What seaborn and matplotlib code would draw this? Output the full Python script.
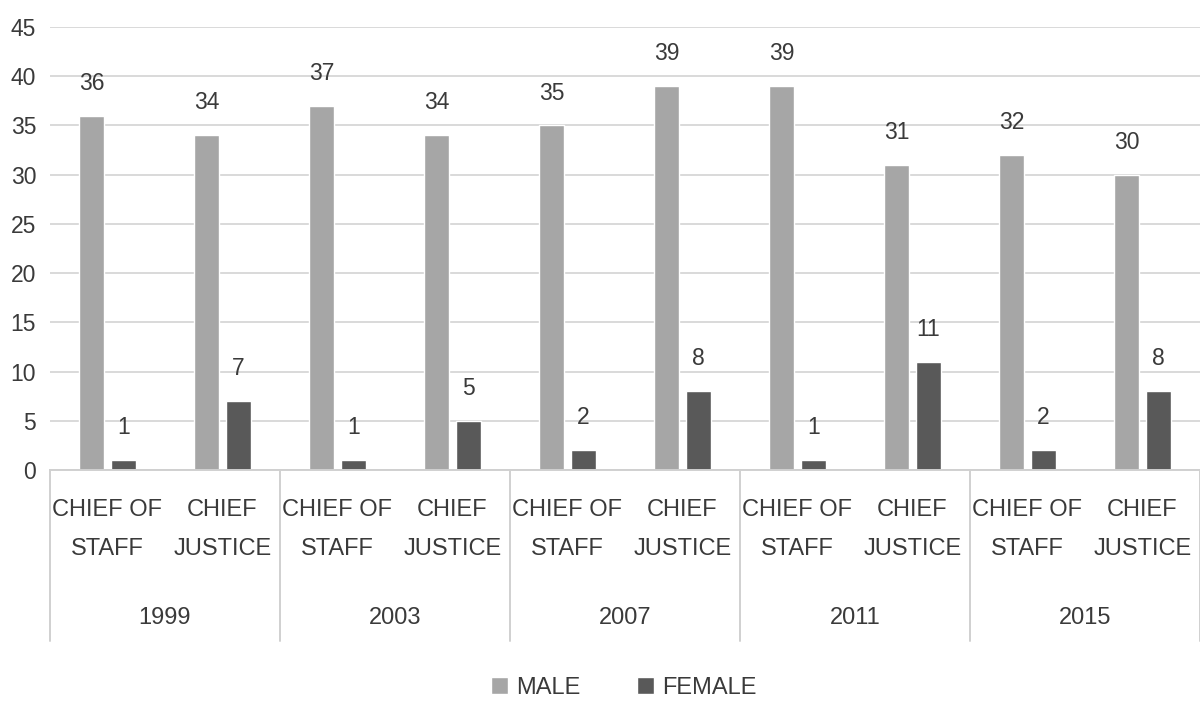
import matplotlib
matplotlib.use("Agg")
import matplotlib.pyplot as plt
import matplotlib.transforms as mtransforms
from matplotlib.patches import Patch
import seaborn as sns
import pandas as pd

years = ["1999", "2003", "2007", "2011", "2015"]
positions = ["CHIEF OF\nSTAFF", "CHIEF\nJUSTICE"]
male = [36, 34, 37, 34, 35, 39, 39, 31, 32, 30]
female = [1, 7, 1, 5, 2, 8, 1, 11, 2, 8]
series = ["MALE", "FEMALE"]
colors = {"MALE": "#a6a6a6", "FEMALE": "#595959"}

keys = [f"{y}-{p}" for y in years for p in positions]
pos_labels = [p for _ in years for p in positions]

df = pd.DataFrame({
    "key": keys * 2,
    "sex": ["MALE"] * len(keys) + ["FEMALE"] * len(keys),
    "value": male + female,
})

sns.set_theme(style="white")
plt.rcParams["font.family"] = ["Liberation Sans", "DejaVu Sans"]
text_color = "#3a3a3a"

fig = plt.figure(figsize=(12, 7.04), dpi=100)
ax = fig.add_axes([50 / 1200, 1 - 470 / 704, 1150 / 1200, 443 / 704])

sns.barplot(data=df, x="key", y="value", hue="sex", order=keys,
            hue_order=series, palette=colors, width=0.56, gap=0.2,
            saturation=1, legend=False, ax=ax)

ax.set_ylim(0, 45)
ax.set_xlim(-0.5, len(keys) - 0.5)
ax.set_yticks(range(0, 46, 5))
ax.yaxis.grid(True, color="#d9d9d9", linewidth=1.4)
ax.set_axisbelow(True)
for s in ["left", "right", "top"]:
    ax.spines[s].set_visible(False)
ax.spines["bottom"].set_color("#d0d0d0")
ax.spines["bottom"].set_linewidth(1.4)
ax.tick_params(axis="y", length=0, labelsize=16.5, labelcolor=text_color, pad=10)
ax.set_xticks([])
ax.set_xlabel("")
ax.set_ylabel("")

# value labels above each bar
for container in ax.containers:
    ax.bar_label(container, fmt="%d", padding=15, fontsize=16.5, color=text_color)

# two-level category axis
trans = mtransforms.blended_transform_factory(ax.transData, ax.transAxes)
for i, lab in enumerate(pos_labels):
    ax.text(i, -0.135, lab, transform=trans, ha="center", va="center",
            fontsize=17, color=text_color, linespacing=2.0)
for j, y in enumerate(years):
    ax.text(2 * j + 0.5, -0.333, y, transform=trans, ha="center", va="center",
            fontsize=17, color=text_color)
for j in range(len(years) + 1):
    ax.plot([2 * j - 0.5, 2 * j - 0.5], [0, -0.385], transform=trans,
            color="#d0d0d0", linewidth=1.4, clip_on=False)

handles = [Patch(facecolor=colors[s], label=s) for s in series]
fig.legend(handles=handles, loc="center", bbox_to_anchor=(0.52, 1 - 688 / 704),
           ncol=2, frameon=False, fontsize=17, handlelength=0.7,
           handleheight=0.7, handletextpad=0.35, columnspacing=2.4,
           labelcolor=text_color)

fig.savefig("out.png", dpi=100, facecolor="white")
